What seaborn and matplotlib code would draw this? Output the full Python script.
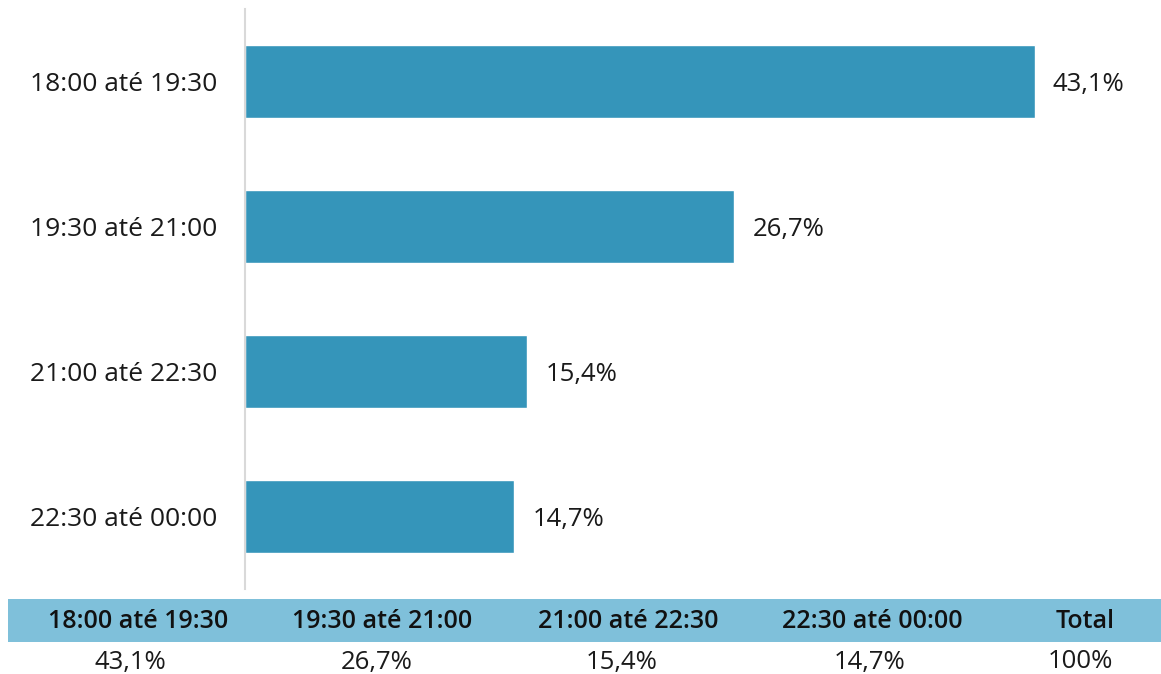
import matplotlib
matplotlib.use("Agg")
import matplotlib.pyplot as plt
import seaborn as sns
import pandas as pd
from matplotlib.patches import Rectangle

categories = ["18:00 até 19:30", "19:30 até 21:00", "21:00 até 22:30", "22:30 até 00:00"]
values = [43.1, 26.7, 15.4, 14.7]
value_labels = ["43,1%", "26,7%", "15,4%", "14,7%"]
total_label = "Total"
total_value = "100%"

sns.set_theme(style="white")
plt.rcParams['font.family'] = ['Open Sans', 'DejaVu Sans']

W, H = 1161, 674
fig = plt.figure(figsize=(W / 100, H / 100), dpi=100)
ax = fig.add_axes([245 / W, 1 - 589 / H, 1 - 245 / W, 580 / H])

df = pd.DataFrame({"cat": categories, "val": values})
sns.barplot(data=df, y="cat", x="val", orient="h", color="#3595BA",
            saturation=1, width=0.505, ax=ax)

ax.set_xlim(0, 50)
ax.set_ylim(3.5, -0.5)
ax.set_xlabel("")
ax.set_ylabel("")
ax.set_xticks([])
for s in ["top", "right", "bottom"]:
    ax.spines[s].set_visible(False)
ax.spines["left"].set_color("#D9D9D9")
ax.spines["left"].set_linewidth(1.5)
ax.tick_params(axis="y", length=0, pad=20, labelsize=19, labelcolor="#1a1a1a")

for i, (v, lab) in enumerate(zip(values, value_labels)):
    ax.text(v + 1.0, i + 0.02, lab, va="center", ha="left", fontsize=18.5, color="#1a1a1a")

# summary table below
fig.patches.append(Rectangle((8 / W, 1 - 642 / H), (W - 8) / W, 43 / H,
                             transform=fig.transFigure, facecolor="#7FC0DA",
                             edgecolor="none", zorder=0))
head_x = [138, 382, 628, 872, 1085]
val_x = [130, 377, 622, 870, 1080]
heads = categories + [total_label]
vals = value_labels + [total_value]
for x, t in zip(head_x, heads):
    fig.text(x / W, 1 - 621 / H, t, ha="center", va="center", fontsize=18,
             fontweight="semibold", color="#111111")
for x, t in zip(val_x, vals):
    fig.text(x / W, 1 - 662 / H, t, ha="center", va="center", fontsize=18.5,
             color="#1a1a1a")

fig.savefig("out.png", dpi=100, facecolor="white")
